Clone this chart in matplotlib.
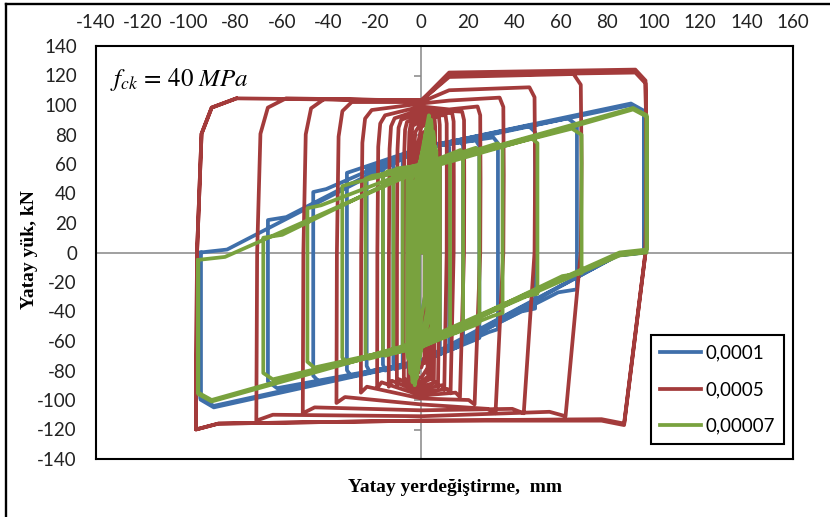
import matplotlib.pyplot as plt
import matplotlib.lines as mlines

# =========================
# DATA
# =========================

# 0,0001 (blue) - one entry per cycle, last amplitude repeated
b_amp_pos = [1.5, 2.5, 3.5, 4.5, 5.5, 8, 12, 18, 25, 33, 49, 67, 96, 96]
b_amp_neg = [1, 2, 3, 4, 5, 8, 12, 16.5, 23.5, 32, 46.5, 66, 95, 95]
b_top_start = [30, 40, 45, 50, 52, 65, 62, 60, 57, 54, 41, 22, 0, 0]
b_top_mid = [45, 58, 62, 62, 62, 70, 70, 70, 71, 71, 71, 71, 71, 70]
b_top_peak = [55, 78, 86, 84, 78, 74, 75, 76, 76, 78, 86, 91, 101, 100]
b_bot_start = [-30, -40, -45, -50, -52, -67, -65, -62, -58, -52, -38, -25, 0, 0]
b_bot_mid = [-45, -58, -62, -62, -62, -74, -74, -74, -74, -74, -74, -74, -74, -73]
b_bot_peak = [-55, -78, -86, -84, -80, -78, -79, -80, -81, -84, -88, -92, -105, -104]

# 0,0005 (red)
r_amp_pos = [1.5, 3, 4.5, 6, 8, 11, 14, 18.5, 25.5, 35.5, 49, 69, 97, 97]
r_amp_neg = [1.5, 3, 4.5, 5.5, 7.5, 10.5, 14, 19, 26, 36.5, 51, 71, 97, 97]
r_top_left = [75, 82, 86, 87, 88.5, 90, 91, 93, 96.6, 102, 104, 104.5, 104.5, 104.5]
r_top_mid = [78, 85, 88, 89, 91, 93, 95, 97, 99, 101, 102, 103, 103, 103]
r_top_right = [82, 88, 90, 91, 92, 93, 94.5, 95.5, 99, 105, 112, 121, 124, 122]
r_bot_right = [-75, -82, -86, -88, -91, -93, -95.5, -98, -103, -109, -109, -111, -117, -116]
r_bot_mid = [-78, -85, -88, -89, -91, -93, -95, -97, -99, -103, -107, -111, -114, -114]
r_bot_left = [-82, -88, -89, -90, -90, -90, -91, -92, -95, -102, -109, -114, -120, -120]

# 0,00007 (green)
g_amp_pos = [1.5, 2.5, 3.5, 4.5, 5.5, 6.5, 8, 12.4, 18, 25, 35, 50, 69, 97, 97]
g_amp_neg = [1, 2, 3, 4, 5, 6, 8, 12, 16.5, 24, 34, 49, 68, 96, 96]
g_top_start = [30, 40, 45, 50, 52, 54, 55, 55, 53, 50, 45, 30, 10, -5, -5]
g_top_mid = [45, 60, 65, 65, 63, 61, 60, 60, 59, 59, 58, 58, 58, 58, 56]
g_top_peak = [60, 85, 93, 90, 82, 72, 63, 65, 69.5, 71, 74, 78, 84, 98, 97]
g_bot_start = [-30, -40, -45, -50, -52, -54, -57, -55, -52, -48, -41, -28, -14, 0, 2]
g_bot_mid = [-45, -60, -65, -65, -63, -63, -64, -64, -63, -63, -62, -62, -62, -61, -60]
g_bot_peak = [-60, -85, -90, -88, -82, -72, -66, -68, -70, -72, -75, -78, -86, -101, -100]

series_names = ["0,0001", "0,0005", "0,00007"]
colors = ["#3F6FAA", "#A33B3B", "#79A23E"]


# =========================
# LOOP PATHS
# =========================

def pinched_path(ap, an, ts, t0, tp, bs, b0, bp):
    xs, ys = [0.0], [0.0]
    prev_an, prev_ts = 0.0, 0.0
    for i in range(len(ap)):
        xs += [-0.88 * prev_an, 0, 0.94 * ap[i], ap[i], ap[i],
               0.88 * ap[i], 0, -0.94 * an[i], -an[i], -an[i]]
        ys += [prev_ts + 2, t0[i], tp[i], 0.95 * tp[i], bs[i],
               bs[i] - 2, b0[i], bp[i], 0.95 * bp[i], ts[i]]
        prev_an, prev_ts = an[i], ts[i]
    return xs, ys


def red_path(ap, an, tl, tm, tr, br, bm, bl):
    xs, ys = [0.0], [0.0]
    for i in range(len(ap)):
        xs.append(0)
        ys.append(tm[i])
        if 0.95 * ap[i] > 20:
            xs.append(12)
            ys.append(tr[i] - 2)
        xs += [0.95 * ap[i], 0.995 * ap[i], ap[i], 0.995 * ap[i],
               0.9 * ap[i], 0.8 * ap[i], 0]
        ys += [tr[i], 0.94 * tr[i], 0.5 * tr[i], 0,
               br[i], br[i] + 3, bm[i]]
        xs += [-0.9 * an[i], -an[i], -0.995 * an[i], -0.975 * an[i],
               -0.93 * an[i], -0.82 * an[i]]
        ys += [bl[i] + 4, bl[i], 0, 0.77 * tl[i], 0.94 * tl[i], tl[i]]
    return xs, ys


# =========================
# FIGURE
# =========================

plt.rcParams["font.family"] = ["Lato", "DejaVu Sans"]
plt.rcParams["axes.unicode_minus"] = False
plt.rcParams["mathtext.fontset"] = "stix"

fig = plt.figure(figsize=(8.3, 5.17), dpi=100)
ax = fig.add_axes([96 / 830, 1 - 459 / 517, 697 / 830, 413 / 517])

ax.set_xlim(-140, 160)
ax.set_ylim(-140, 140)
ax.set_xticks(range(-140, 161, 20))
ax.set_yticks(range(-140, 141, 20))
ax.xaxis.tick_top()
ax.tick_params(axis="both", length=0, labelsize=13.5, labelcolor="#222222")
ax.tick_params(axis="x", pad=11)
ax.tick_params(axis="y", pad=13.7)
for s in ax.spines.values():
    s.set_linewidth(1.5)
    s.set_color("black")

# zero axes (Excel style)
ax.axhline(0, color="#868686", lw=1.1, zorder=1)
sec = ax.secondary_yaxis(140 / 300)
sec.set_yticks(range(-140, 141, 20))
sec.tick_params(length=5, width=1.1, color="#868686", labelleft=False, labelright=False)
sec.spines["left"].set_color("#868686")
sec.spines["left"].set_linewidth(1.1)

# =========================
# CURVES
# =========================

bx, by = pinched_path(b_amp_pos, b_amp_neg, b_top_start, b_top_mid, b_top_peak,
                      b_bot_start, b_bot_mid, b_bot_peak)
rx, ry = red_path(r_amp_pos, r_amp_neg, r_top_left, r_top_mid, r_top_right,
                  r_bot_right, r_bot_mid, r_bot_left)
gx, gy = pinched_path(g_amp_pos, g_amp_neg, g_top_start, g_top_mid, g_top_peak,
                      g_bot_start, g_bot_mid, g_bot_peak)

for (x, y), name, c in zip([(bx, by), (rx, ry), (gx, gy)], series_names, colors):
    ax.plot(x, y, color=c, lw=2.7, solid_joinstyle="round", label=name)

ax.text(0.02, 0.903, r"$f_{ck}\,=\,40\ MPa$", transform=ax.transAxes,
        fontsize=18, va="baseline")

leg = ax.legend(loc="lower right", bbox_to_anchor=(784 / 830, 1 - 444 / 517),
                bbox_transform=fig.transFigure, borderaxespad=0,
                fontsize=13.5, handlelength=2.2, handletextpad=0.2,
                labelspacing=1.04, borderpad=0.5, fancybox=False,
                framealpha=1, edgecolor="black")
leg.get_frame().set_linewidth(1.5)

# =========================
# TITLES & FRAME
# =========================

fig.text(455 / 830, 1 - 488 / 517, "Yatay yerdeğiştirme,  mm", ha="center",
         va="center", family="Liberation Serif", weight="bold", fontsize=14)
fig.text(30 / 830, 1 - 250 / 517, "Yatay yük, kN", rotation=90, ha="center",
         va="center", family="Liberation Serif", weight="bold", fontsize=14)

fig.add_artist(mlines.Line2D([6 / 830, 6 / 830], [0, 1 - 4 / 517],
                             transform=fig.transFigure, color="black", lw=1.7))
fig.add_artist(mlines.Line2D([6 / 830, 1], [1 - 4.3 / 517, 1 - 4.3 / 517],
                             transform=fig.transFigure, color="black", lw=1.7))

plt.savefig("out.png", dpi=100)
